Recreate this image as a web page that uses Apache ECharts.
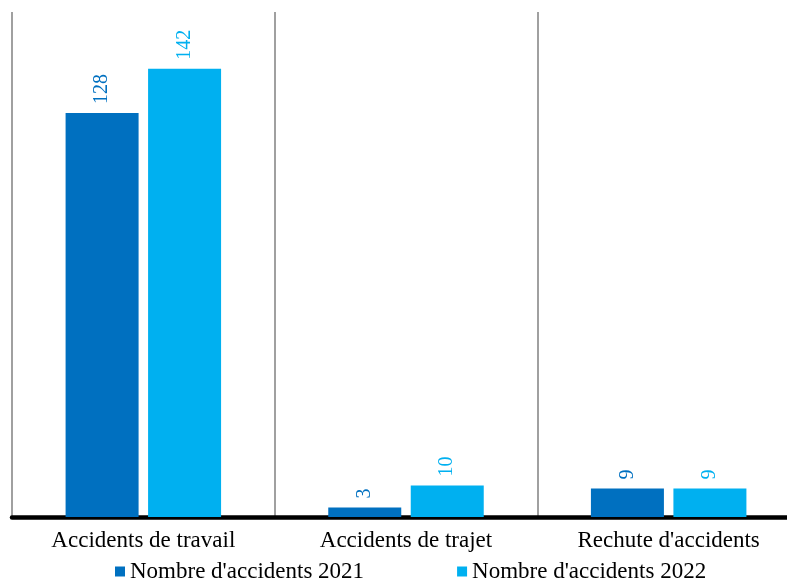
<!DOCTYPE html>
<html>
<head>
<meta charset="utf-8">
<script src="https://cdn.jsdelivr.net/npm/echarts@6/dist/echarts.min.js"></script>
<style>
html,body{margin:0;padding:0;background:#fff;overflow:hidden;}
#main{width:800px;height:580px;}
</style>
</head>
<body>
<div id="main"></div>
<script>
var categories = ['Accidents de travail', 'Accidents de trajet', "Rechute d'accidents"];
var seriesNames = ["Nombre d'accidents 2021", "Nombre d'accidents 2022"];
var values2021 = [128, 3, 9];
var values2022 = [142, 10, 9];
var colors = ['#0070C0', '#00B0F0'];

var font = 'Liberation Serif';

var makeSeries = function(name, data, color){
    return {
        name: name,
        type: 'bar',
        data: data,
        barWidth: 73,
        barGap: '13%',
        itemStyle: {color: color},
        label: {
            show: true,
            position: 'top',
            rotate: 90,
            align: 'left',
            verticalAlign: 'middle',
            distance: 9,
            color: color,
            fontFamily: font,
            fontSize: 20
        }
    };
};

// chart is 800 wide on purpose: the last category runs past the window edge
var chart = echarts.init(document.getElementById('main'));
chart.setOption({
    animation: false,
    color: colors,
    grid: {left: 12, right: 0, top: 12, bottom: 63, containLabel: false},
    legend: {
        left: 110,
        top: 555,
        itemWidth: 10,
        itemHeight: 10,
        itemGap: 93,
        itemTextGap: 6,
        icon: 'rect',
        textStyle: {fontFamily: font, fontSize: 23, color: '#000', lineHeight: 23},
        data: seriesNames
    },
    xAxis: {
        type: 'category',
        data: categories,
        axisLine: {lineStyle: {color: '#000', width: 4.5}},
        axisTick: {show: false},
        splitLine: {show: true, lineStyle: {color: '#808080', width: 1.5}},
        axisLabel: {fontFamily: font, fontSize: 23, color: '#000', margin: 12}
    },
    yAxis: {
        type: 'value',
        min: 0,
        max: 160,
        show: false,
        splitLine: {show: false}
    },
    series: [
        makeSeries(seriesNames[0], values2021, colors[0]),
        makeSeries(seriesNames[1], values2022, colors[1])
    ]
});
</script>
</body>
</html>
